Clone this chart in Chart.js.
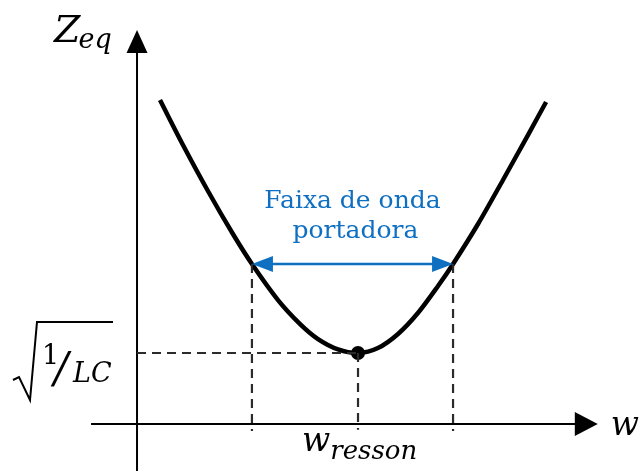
<!DOCTYPE html>
<html>
<head>
<meta charset="utf-8">
<script src="https://cdn.jsdelivr.net/npm/chart.js@4/dist/chart.umd.min.js"></script>
<style>
  html, body { margin: 0; padding: 0; background: #fff; }
  canvas { display: block; }
</style>
</head>
<body>
<canvas id="c" width="642" height="471"></canvas>
<script>
// Zeq(w) of the LC circuit: w in units of w_resson, Zeq in units of sqrt(1/LC)
const wPoints = [0.104, 0.208, 0.321, 0.434, 0.520, 0.638, 0.738, 0.819, 0.910, 1.000,
                 1.090, 1.181, 1.271, 1.362, 1.430, 1.543, 1.656, 1.769, 1.851];
const zPoints = [4.563, 3.930, 3.282, 2.676, 2.254, 1.746, 1.408, 1.197, 1.051, 1.000,
                 1.070, 1.268, 1.563, 1.944, 2.254, 2.817, 3.437, 4.070, 4.535];

// resonance point and the carrier band edges
const wResson = 1.0;
const zResson = 1.0;
const bandLow = 0.520;
const bandHigh = 1.430;
const bandZ = 2.254;

// extent of the drawn axes and of the visible window
const axisW = [-0.208, 2.085];
const axisZ = [-0.662, 5.55];
const viewW = [-0.62, 2.285];
const viewZ = [-0.662, 5.972];

// texts
const zLabel = ['Z', 'eq'];
const wLabel = 'w';
const wResLabel = ['w', 'resson'];
const rootLabel = ['1', '/', 'LC'];
const bandLabel = ['Faixa de onda', 'portadora'];

const INK = '#000000';
const DASH = '#2b2b2b';
const BLUE = '#0f70c2';
const MATH = '"DejaVu Serif", "Liberation Serif", serif';

const seg = (a, b) => [{ x: a[0], y: a[1] }, { x: b[0], y: b[1] }];
const dashed = (pts) => ({
  type: 'line', data: pts, borderColor: DASH, borderWidth: 2.2,
  borderDash: [9, 6], pointRadius: 0, fill: false, tension: 0
});

function arrowHead(ctx, tx, ty, dx, dy, len, half, color) {
  const bx = tx - dx * len, by = ty - dy * len;
  const nx = -dy, ny = dx;
  ctx.beginPath();
  ctx.moveTo(tx, ty);
  ctx.lineTo(bx + nx * half, by + ny * half);
  ctx.lineTo(bx - nx * half, by - ny * half);
  ctx.closePath();
  ctx.fillStyle = color;
  ctx.fill();
}

const decorations = {
  id: 'decorations',
  afterDatasetsDraw(chart) {
    const ctx = chart.ctx;
    const xs = chart.scales.x, ys = chart.scales.y;
    const px = v => xs.getPixelForValue(v);
    const py = v => ys.getPixelForValue(v);
    const ox = px(0), oy = py(0);
    ctx.save();

    // axis arrowheads
    arrowHead(ctx, ox, py(axisZ[1]), 0, -1, 23, 10.5, INK);
    arrowHead(ctx, px(axisW[1]), oy, 1, 0, 23, 12, INK);

    // band arrowheads
    arrowHead(ctx, px(bandLow), py(bandZ), -1, 0, 21, 8, BLUE);
    arrowHead(ctx, px(bandHigh), py(bandZ), 1, 0, 21, 8, BLUE);

    ctx.fillStyle = INK;
    ctx.textBaseline = 'alphabetic';
    ctx.textAlign = 'left';

    // Zeq
    ctx.font = 'italic 38px ' + MATH;
    const zx = ox - 83, zy = py(axisZ[1]) + 12;
    ctx.fillText(zLabel[0], zx, zy);
    const zw = ctx.measureText(zLabel[0]).width;
    ctx.font = 'italic 27px ' + MATH;
    ctx.fillText(zLabel[1], zx + zw - 2, zy + 6);

    // w at the end of the horizontal axis
    ctx.font = 'italic 33px ' + MATH;
    ctx.fillText(wLabel, px(axisW[1]) + 13, oy + 11);

    // w_resson under the resonance point
    const rx = px(wResson) - 56, ry = oy + 27;
    ctx.font = 'italic 33px ' + MATH;
    ctx.fillText(wResLabel[0], rx, ry);
    const rw = ctx.measureText(wResLabel[0]).width;
    ctx.font = 'italic 26px ' + MATH;
    ctx.fillText(wResLabel[1], rx + rw, ry + 8);

    // sqrt(1/LC) next to the level of the minimum
    const ly = py(zResson);
    ctx.strokeStyle = INK;
    ctx.lineWidth = 2;
    ctx.lineJoin = 'miter';
    ctx.beginPath();
    ctx.moveTo(13, ly + 27);
    ctx.lineTo(19, ly + 24);
    ctx.lineTo(30, ly + 47);
    ctx.lineTo(37, ly - 31);
    ctx.lineTo(113, ly - 31);
    ctx.stroke();
    ctx.font = '27px ' + MATH;
    ctx.fillText(rootLabel[0], 42, ly + 11);
    ctx.font = 'italic 42px ' + MATH;
    ctx.fillText(rootLabel[1], 54, ly + 29);
    ctx.font = 'italic 27px ' + MATH;
    ctx.fillText(rootLabel[2], 73, ly + 29);

    // band caption
    ctx.fillStyle = BLUE;
    ctx.textAlign = 'center';
    const cx = (px(bandLow) + px(bandHigh)) / 2;
    ctx.font = '25px ' + MATH;
    ctx.fillText(bandLabel[0], cx, py(bandZ) - 56);
    ctx.fillText(bandLabel[1], cx + 3, py(bandZ) - 26);

    ctx.restore();
  }
};

new Chart(document.getElementById('c'), {
  type: 'scatter',
  data: {
    datasets: [
      // dashed guides
      dashed(seg([0, zResson], [wResson, zResson])),
      dashed(seg([wResson, zResson], [wResson, -0.08])),
      dashed(seg([bandLow, bandZ], [bandLow, -0.1])),
      dashed(seg([bandHigh, bandZ], [bandHigh, -0.1])),
      // axes
      { type: 'line', data: seg([axisW[0], 0], [axisW[1] - 0.05, 0]), borderColor: INK, borderWidth: 2, pointRadius: 0, tension: 0 },
      { type: 'line', data: seg([0, axisZ[0]], [0, axisZ[1] - 0.2]), borderColor: INK, borderWidth: 2, pointRadius: 0, tension: 0 },
      // carrier band
      { type: 'line', data: seg([bandLow + 0.05, bandZ], [bandHigh - 0.05, bandZ]), borderColor: BLUE, borderWidth: 2.5, pointRadius: 0, tension: 0 },
      // impedance curve
      {
        type: 'line',
        data: wPoints.map((w, i) => ({ x: w, y: zPoints[i] })),
        borderColor: INK, borderWidth: 4.5, pointRadius: 0,
        tension: 0.3, fill: false, borderCapStyle: 'butt'
      },
      // resonance point
      {
        type: 'scatter',
        data: [{ x: wResson, y: zResson }],
        pointRadius: 7, pointBackgroundColor: INK, pointBorderColor: INK, pointBorderWidth: 0
      }
    ]
  },
  options: {
    responsive: false,
    animation: false,
    devicePixelRatio: 1,
    layout: { padding: 0, autoPadding: false },
    plugins: { legend: { display: false }, tooltip: { enabled: false } },
    scales: {
      x: { type: 'linear', min: viewW[0], max: viewW[1], display: false },
      y: { type: 'linear', min: viewZ[0], max: viewZ[1], display: false }
    }
  },
  plugins: [decorations]
});
</script>
</body>
</html>
